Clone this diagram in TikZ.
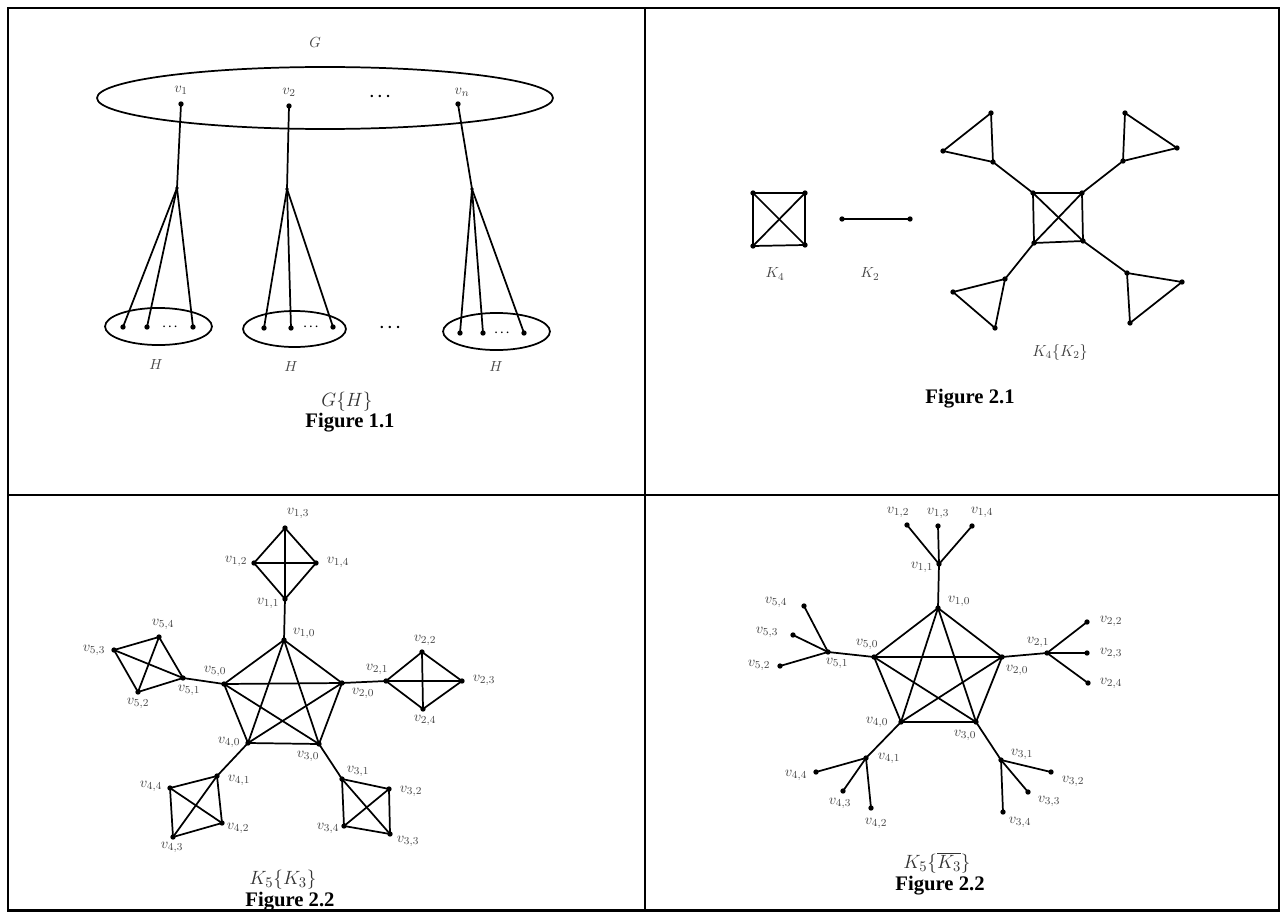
\documentclass[tikz,border=0pt]{standalone}
\usepackage{fontspec}
\newfontfamily\capfont{Liberation Serif}
\begin{document}
\begin{tikzpicture}[x=0.75pt,y=-0.75pt,
  dot/.style={circle,fill=black,inner sep=0pt,minimum size=4pt},
  hub/.style={circle,fill=black,inner sep=0pt,minimum size=2.8pt},
  edge/.style={line width=1.3pt},
  frame/.style={line width=1.7pt},
  lab/.style={text=black!72,font=\fontsize{11}{13}\selectfont,inner sep=0pt},
  title/.style={text=black!80,font=\fontsize{15.5}{17}\selectfont,inner sep=0pt},
  smalltitle/.style={text=black!75,font=\fontsize{12}{14}\selectfont,inner sep=0pt},
  fig/.style={font=\capfont\bfseries\fontsize{15.5}{18}\selectfont,inner sep=0pt},
  bigdots/.style={font=\boldmath\fontsize{13}{14}\selectfont,inner sep=0pt},
  smdots/.style={font=\boldmath\fontsize{8.5}{9}\selectfont,inner sep=0pt}]
\useasboundingbox (0,0) rectangle (1284,913);
% frame
\draw[frame] (8,8) rectangle (1279,910.5);
\draw[frame] (645,8) -- (645,910.5);
\draw[frame] (8,495) -- (1279,495);

% ---------------- Figure 1.1 ----------------
\draw[edge] (325,98) ellipse [x radius=171pt, y radius=23.25pt];
\node[lab] (Glab) at (315,43) {$G$};
\node[lab] (lv1) at (181,90) {$v_1$};
\node[lab] (lv2) at (289,92) {$v_2$};
\node[lab] (lvn) at (462,92) {$v_n$};
\node[bigdots] (gdots) at (380,97) {$\cdots$};
\node[dot] (v1) at (181,104) {};
\node[dot] (v2) at (289,106) {};
\node[dot] (vn) at (458,104) {};
\node[hub] (h1) at (177,188) {};
\node[hub] (h2) at (287,189) {};
\node[hub] (h3) at (472,189) {};
\draw[edge] (158.5,326.5) ellipse [x radius=40.1pt, y radius=13.9pt];
\draw[edge] (294.5,329) ellipse [x radius=38.6pt, y radius=13.5pt];
\draw[edge] (496.5,331.5) ellipse [x radius=40.1pt, y radius=13.9pt];
\node[dot] (a1) at (123,327) {};
\node[dot] (b1) at (147,327) {};
\node[dot] (c1) at (193,327) {};
\node[dot] (a2) at (264,328) {};
\node[dot] (b2) at (291,328) {};
\node[dot] (c2) at (333,327) {};
\node[dot] (a3) at (460,333) {};
\node[dot] (b3) at (483,333) {};
\node[dot] (c3) at (524,333) {};
\node[smdots] (d1) at (170,327) {$\cdots$};
\node[smdots] (d2) at (311,327) {$\cdots$};
\node[smdots] (d3) at (502,333) {$\cdots$};
\node[bigdots] (dm) at (390,328) {$\cdots$};
\foreach \a/\b in {v1/h1,v2/h2,vn/h3,h1/a1,h1/b1,h1/c1,h2/a2,h2/b2,h2/c2,h3/a3,h3/b3,h3/c3}
  \draw[edge] (\a.center) -- (\b.center);
\node[lab] (H1) at (156,365) {$H$};
\node[lab] (H2) at (291,367) {$H$};
\node[lab] (H3) at (496,367) {$H$};
\node[title] (GH) at (347,402) {$G\{H\}$};
\node[fig] (f11) at (350,423) {Figure 1.1};

% ---------------- Figure 2.1 ----------------
\node[dot] (k1) at (753,193) {};
\node[dot] (k2) at (805,193) {};
\node[dot] (k3) at (805,245) {};
\node[dot] (k4) at (753,246) {};
\foreach \a/\b in {k1/k2,k2/k3,k3/k4,k4/k1,k1/k3,k2/k4}
  \draw[edge] (\a.center) -- (\b.center);
\node[dot] (e1) at (842,219) {};
\node[dot] (e2) at (910,219) {};
\draw[edge] (e1.center) -- (e2.center);
\node[dot] (q1) at (1033,193) {};
\node[dot] (q2) at (1082,193) {};
\node[dot] (q3) at (1083,241) {};
\node[dot] (q4) at (1034,243) {};
\foreach \a/\b in {q1/q2,q2/q3,q3/q4,q4/q1,q1/q3,q2/q4}
  \draw[edge] (\a.center) -- (\b.center);
\node[dot] (t1a) at (993,162) {};
\node[dot] (t1b) at (991,113) {};
\node[dot] (t1c) at (943,151) {};
\node[dot] (t2a) at (1123,161) {};
\node[dot] (t2b) at (1125,113) {};
\node[dot] (t2c) at (1177,148) {};
\node[dot] (t3a) at (1127,273) {};
\node[dot] (t3b) at (1182,282) {};
\node[dot] (t3c) at (1130,323) {};
\node[dot] (t4a) at (1005,279) {};
\node[dot] (t4b) at (953,292) {};
\node[dot] (t4c) at (995,328) {};
\foreach \i in {1,2,3,4}{
  \draw[edge] (t\i a.center) -- (t\i b.center) -- (t\i c.center) -- cycle;
  \draw[edge] (q\i.center) -- (t\i a.center);
}
\node[lab] (K4lab) at (775,274) {$K_4$};
\node[lab] (K2lab) at (870,274) {$K_2$};
\node[smalltitle] (K4K2) at (1060,352) {$K_4\{K_2\}$};
\node[fig] (f21) at (970,399) {Figure 2.1};

% ---------------- Figure 2.2 (left) ----------------
\node[dot] (p10) at (284,640) {};
\node[dot] (p20) at (342,683) {};
\node[dot] (p30) at (319,744) {};
\node[dot] (p40) at (248,743) {};
\node[dot] (p50) at (224,684) {};
\foreach \a/\b in {p10/p20,p10/p30,p10/p40,p10/p50,p20/p30,p20/p40,p20/p50,p30/p40,p30/p50,p40/p50}
  \draw[edge] (\a.center) -- (\b.center);
\node[dot] (p11) at (285,599) {};
\node[dot] (p12) at (254,563) {};
\node[dot] (p13) at (285,528) {};
\node[dot] (p14) at (316,563) {};
\node[dot] (p21) at (386,681) {};
\node[dot] (p22) at (422,652) {};
\node[dot] (p23) at (462,681) {};
\node[dot] (p24) at (423,709) {};
\node[dot] (p31) at (342,779) {};
\node[dot] (p32) at (389,789) {};
\node[dot] (p33) at (390,834) {};
\node[dot] (p34) at (344,826) {};
\node[dot] (p41) at (217,776) {};
\node[dot] (p42) at (222,823) {};
\node[dot] (p43) at (173,837) {};
\node[dot] (p44) at (170,788) {};
\node[dot] (p51) at (183,678) {};
\node[dot] (p52) at (138,692) {};
\node[dot] (p53) at (114,650) {};
\node[dot] (p54) at (159,637) {};
\foreach \i in {1,2,3,4,5}{
  \draw[edge] (p\i0.center) -- (p\i1.center);
  \foreach \a/\b in {1/2,1/3,1/4,2/3,2/4,3/4}
    \draw[edge] (p\i\a.center) -- (p\i\b.center);
}
\node[lab] (lp13) at (298,513) {$v_{1,3}$};
\node[lab] (lp12) at (236,561) {$v_{1,2}$};
\node[lab] (lp14) at (338,562) {$v_{1,4}$};
\node[lab] (lp11) at (268,603) {$v_{1,1}$};
\node[lab] (lp10) at (304,633) {$v_{1,0}$};
\node[lab] (lp50) at (215,671) {$v_{5,0}$};
\node[lab] (lp54) at (163,624) {$v_{5,4}$};
\node[lab] (lp53) at (94,650) {$v_{5,3}$};
\node[lab] (lp51) at (189,690) {$v_{5,1}$};
\node[lab] (lp52) at (138,703) {$v_{5,2}$};
\node[lab] (lp21) at (377,669) {$v_{2,1}$};
\node[lab] (lp22) at (425,640) {$v_{2,2}$};
\node[lab] (lp23) at (484,680) {$v_{2,3}$};
\node[lab] (lp24) at (425,720) {$v_{2,4}$};
\node[lab] (lp20) at (363,693) {$v_{2,0}$};
\node[lab] (lp40) at (229,742) {$v_{4,0}$};
\node[lab] (lp30) at (308,756) {$v_{3,0}$};
\node[lab] (lp41) at (239,780) {$v_{4,1}$};
\node[lab] (lp44) at (151,786) {$v_{4,4}$};
\node[lab] (lp42) at (238,828) {$v_{4,2}$};
\node[lab] (lp43) at (172,847) {$v_{4,3}$};
\node[lab] (lp31) at (358,771) {$v_{3,1}$};
\node[lab] (lp32) at (411,791) {$v_{3,2}$};
\node[lab] (lp33) at (408,841) {$v_{3,3}$};
\node[lab] (lp34) at (328,828) {$v_{3,4}$};
\node[title] (K5K3) at (283,880) {$K_5\{K_3\}$};
\node[fig] (f22a) at (290,902) {Figure 2.2};

% ---------------- Figure 2.2 (right) ----------------
\node[dot] (r10) at (938,608) {};
\node[dot] (r20) at (1002,657) {};
\node[dot] (r30) at (976,722) {};
\node[dot] (r40) at (901,722) {};
\node[dot] (r50) at (874,657) {};
\foreach \a/\b in {r10/r20,r10/r30,r10/r40,r10/r50,r20/r30,r20/r40,r20/r50,r30/r40,r30/r50,r40/r50}
  \draw[edge] (\a.center) -- (\b.center);
\node[dot] (r11) at (939,564) {};
\node[dot] (r12) at (907,525) {};
\node[dot] (r13) at (938,526) {};
\node[dot] (r14) at (972,526) {};
\node[dot] (r21) at (1047,653) {};
\node[dot] (r22) at (1087,622) {};
\node[dot] (r23) at (1087,653) {};
\node[dot] (r24) at (1088,683) {};
\node[dot] (r31) at (1001,760) {};
\node[dot] (r32) at (1051,772) {};
\node[dot] (r33) at (1028,792) {};
\node[dot] (r34) at (1003,812) {};
\node[dot] (r41) at (866,758) {};
\node[dot] (r42) at (871,808) {};
\node[dot] (r43) at (843,791) {};
\node[dot] (r44) at (816,772) {};
\node[dot] (r51) at (828,652) {};
\node[dot] (r52) at (780,666) {};
\node[dot] (r53) at (793,635) {};
\node[dot] (r54) at (804,606) {};
\foreach \i in {1,2,3,4,5}{
  \draw[edge] (r\i0.center) -- (r\i1.center);
  \foreach \b in {2,3,4}
    \draw[edge] (r\i1.center) -- (r\i\b.center);
}
\node[lab] (lr12) at (898,512) {$v_{1,2}$};
\node[lab] (lr13) at (938,513) {$v_{1,3}$};
\node[lab] (lr14) at (982,512) {$v_{1,4}$};
\node[lab] (lr11) at (922,567) {$v_{1,1}$};
\node[lab] (lr10) at (959,601) {$v_{1,0}$};
\node[lab] (lr54) at (776,602) {$v_{5,4}$};
\node[lab] (lr53) at (767,632) {$v_{5,3}$};
\node[lab] (lr52) at (759,665) {$v_{5,2}$};
\node[lab] (lr51) at (837,663) {$v_{5,1}$};
\node[lab] (lr50) at (867,644) {$v_{5,0}$};
\node[lab] (lr20) at (1017,670) {$v_{2,0}$};
\node[lab] (lr21) at (1038,642) {$v_{2,1}$};
\node[lab] (lr22) at (1111,621) {$v_{2,2}$};
\node[lab] (lr23) at (1111,653) {$v_{2,3}$};
\node[lab] (lr24) at (1111,683) {$v_{2,4}$};
\node[lab] (lr40) at (877,722) {$v_{4,0}$};
\node[lab] (lr30) at (965,735) {$v_{3,0}$};
\node[lab] (lr41) at (889,758) {$v_{4,1}$};
\node[lab] (lr44) at (796,775) {$v_{4,4}$};
\node[lab] (lr43) at (840,803) {$v_{4,3}$};
\node[lab] (lr42) at (876,823) {$v_{4,2}$};
\node[lab] (lr31) at (1022,754) {$v_{3,1}$};
\node[lab] (lr32) at (1073,781) {$v_{3,2}$};
\node[lab] (lr33) at (1049,801) {$v_{3,3}$};
\node[lab] (lr34) at (1020,822) {$v_{3,4}$};
\node[title] (K5K3b) at (937,863) {$K_5\{\overline{K_3}\}$};
\node[fig] (f22b) at (940,886) {Figure 2.2};
\end{tikzpicture}
\end{document}
